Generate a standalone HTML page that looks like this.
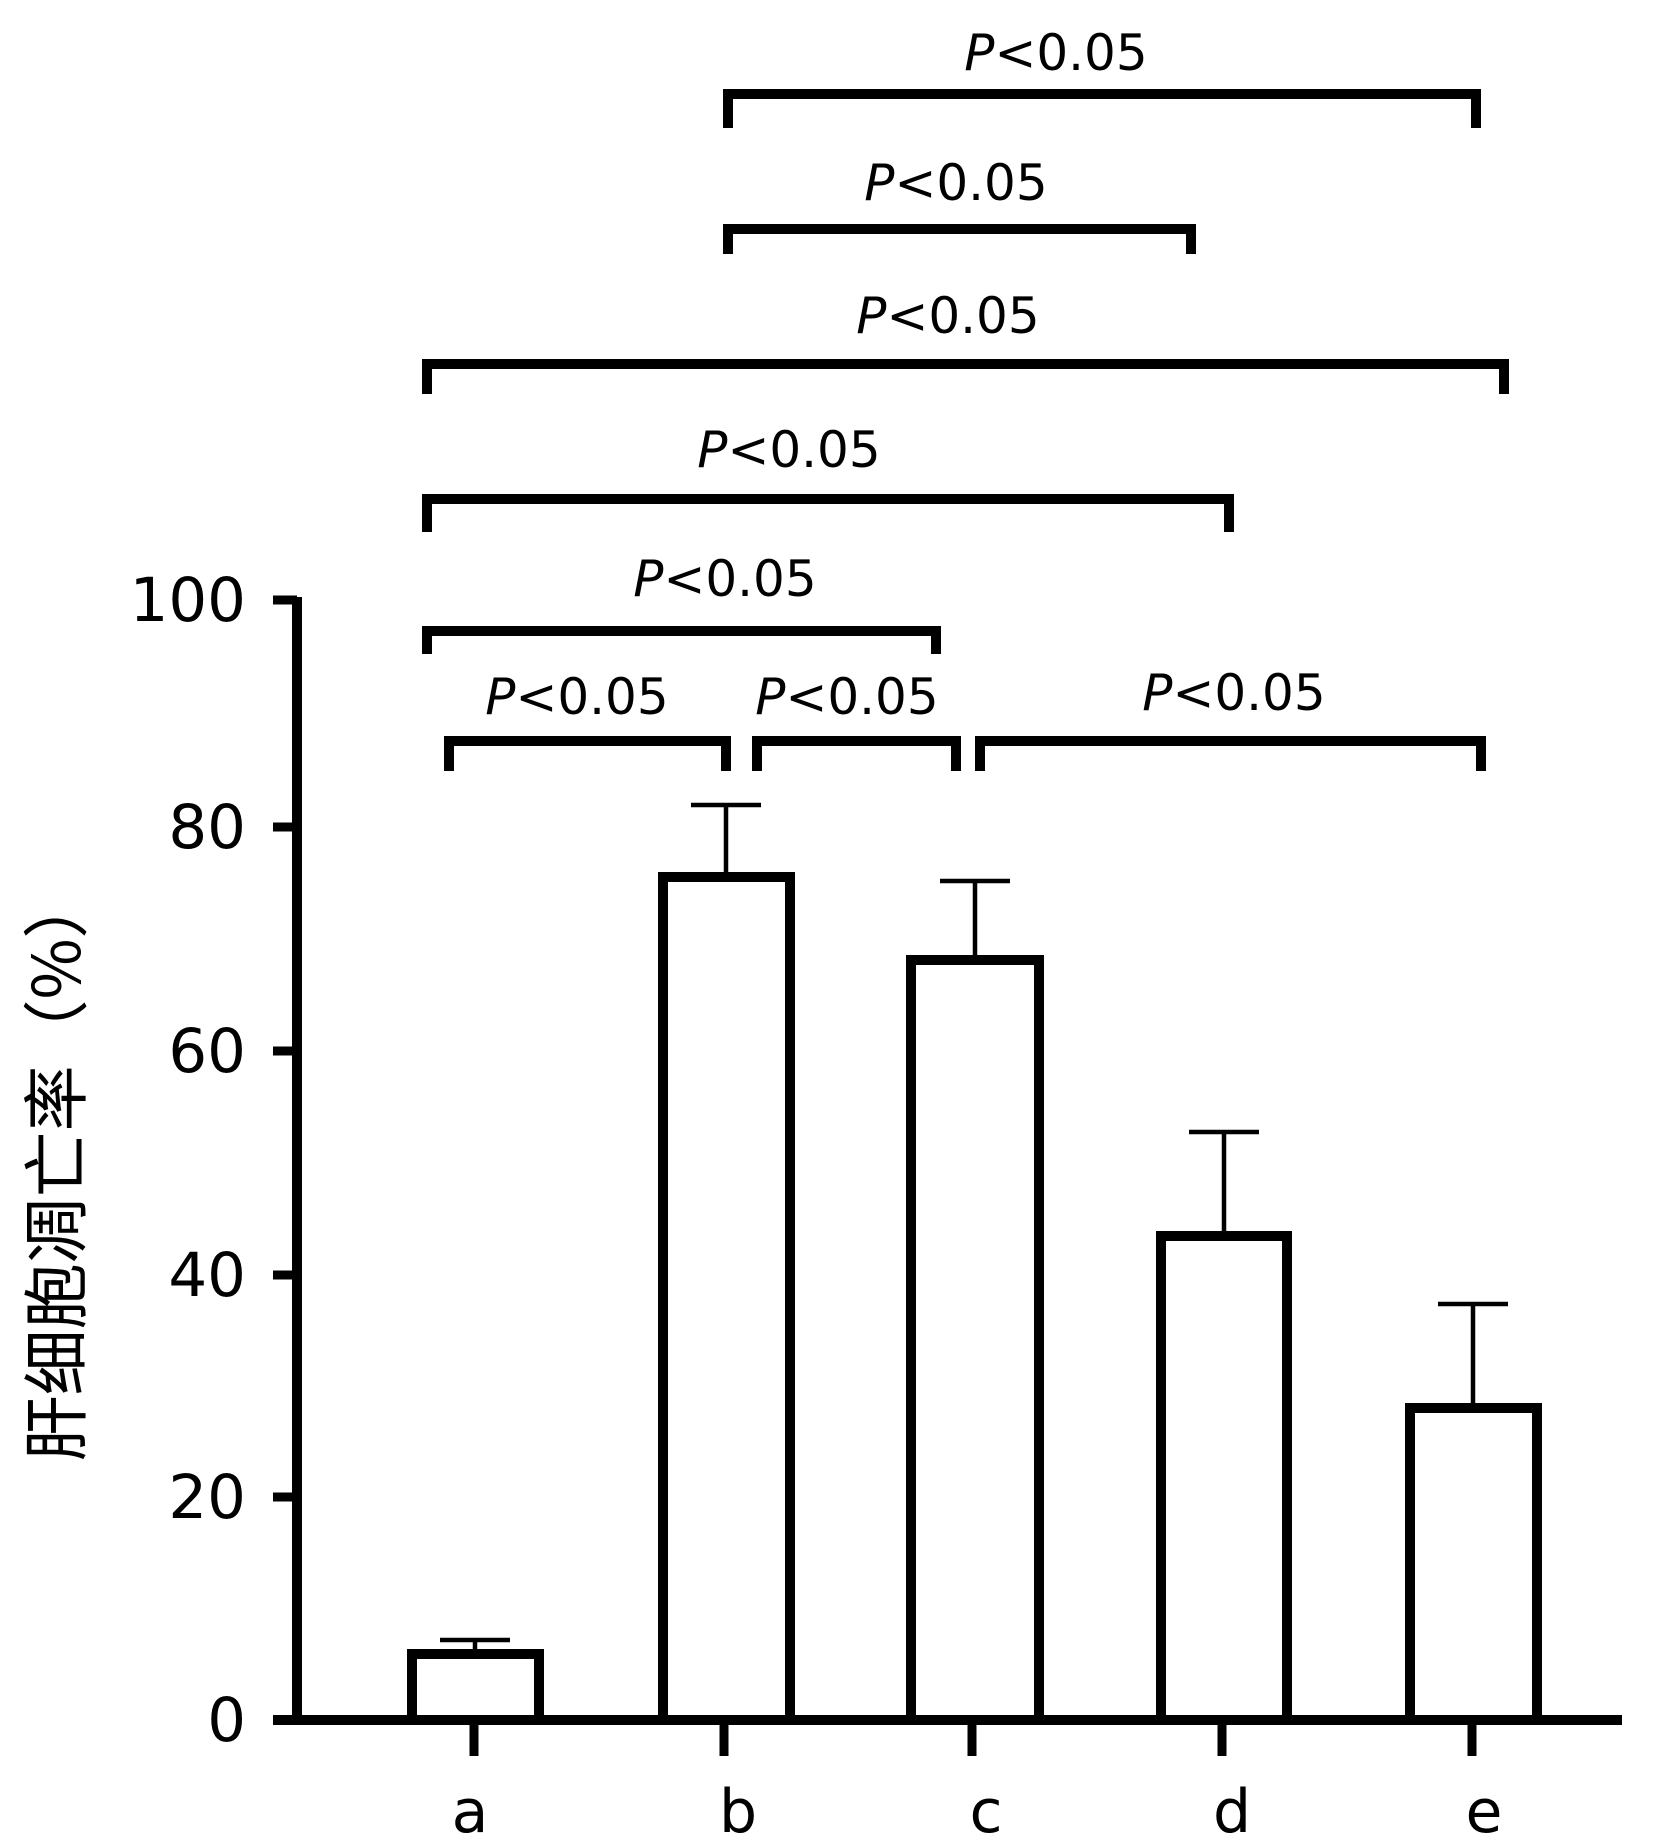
<!DOCTYPE html>
<html><head><meta charset="utf-8"><style>
html,body{margin:0;padding:0;background:#fff;}
svg{display:block;}
text{font-family:"DejaVu Sans","Liberation Sans","Noto Sans CJK SC",sans-serif;fill:#000;}
</style></head><body>
<svg width="1654" height="1840" viewBox="0 0 1654 1840" xmlns="http://www.w3.org/2000/svg">
<g stroke="#000" fill="none" stroke-linejoin="miter" stroke-linecap="butt">
<line x1="297" y1="597" x2="297" y2="1725" stroke-width="10"/>
<line x1="273" y1="1720" x2="1622" y2="1720" stroke-width="10"/>
<g stroke-width="9">
<line x1="273" y1="600" x2="297" y2="600"/>
<line x1="273" y1="827" x2="297" y2="827"/>
<line x1="273" y1="1051" x2="297" y2="1051"/>
<line x1="273" y1="1275" x2="297" y2="1275"/>
<line x1="273" y1="1497" x2="297" y2="1497"/>
<line x1="474" y1="1720" x2="474" y2="1756"/>
<line x1="724" y1="1720" x2="724" y2="1756"/>
<line x1="972" y1="1720" x2="972" y2="1756"/>
<line x1="1222" y1="1720" x2="1222" y2="1756"/>
<line x1="1472" y1="1720" x2="1472" y2="1756"/>
</g>
<g stroke-width="4.5">
<line x1="475" y1="1654" x2="475" y2="1640"/><line x1="440" y1="1640" x2="510" y2="1640"/>
<line x1="726" y1="877" x2="726" y2="805"/><line x1="691" y1="805" x2="761" y2="805"/>
<line x1="975" y1="960" x2="975" y2="881"/><line x1="940" y1="881" x2="1010" y2="881"/>
<line x1="1224" y1="1236" x2="1224" y2="1132"/><line x1="1189" y1="1132" x2="1259" y2="1132"/>
<line x1="1473" y1="1408" x2="1473" y2="1304"/><line x1="1438" y1="1304" x2="1508" y2="1304"/>
</g>
<g stroke-width="10" fill="#fff">
<rect x="412" y="1654" width="127" height="66"/>
<rect x="663" y="877" width="127" height="843"/>
<rect x="911" y="960" width="128" height="760"/>
<rect x="1161" y="1236" width="126" height="484"/>
<rect x="1410" y="1408" width="127" height="312"/>
</g>
<g stroke-width="10">
<polyline points="728,128 728,94 1476,94 1476,128"/>
<polyline points="728,254 728,229 1191,229 1191,254"/>
<polyline points="427,394 427,364 1504,364 1504,394"/>
<polyline points="427,532 427,499 1229,499 1229,532"/>
<polyline points="427,654 427,631 936,631 936,654"/>
<polyline points="449,771 449,741 726,741 726,771"/>
<polyline points="757,771 757,741 956,741 956,771"/>
<polyline points="980,771 980,741 1481,741 1481,771"/>
</g>
</g>
<g font-size="50" text-anchor="middle">
<text x="1056" y="70"><tspan font-style="italic">P</tspan>&lt;0.05</text>
<text x="956" y="200"><tspan font-style="italic">P</tspan>&lt;0.05</text>
<text x="948" y="333"><tspan font-style="italic">P</tspan>&lt;0.05</text>
<text x="789" y="467"><tspan font-style="italic">P</tspan>&lt;0.05</text>
<text x="725" y="596"><tspan font-style="italic">P</tspan>&lt;0.05</text>
<text x="577" y="714"><tspan font-style="italic">P</tspan>&lt;0.05</text>
<text x="847" y="714"><tspan font-style="italic">P</tspan>&lt;0.05</text>
<text x="1234" y="710"><tspan font-style="italic">P</tspan>&lt;0.05</text>
</g>
<g font-size="61" text-anchor="end">
<text x="246" y="621">100</text>
<text x="246" y="848">80</text>
<text x="246" y="1072">60</text>
<text x="246" y="1296">40</text>
<text x="246" y="1518">20</text>
<text x="246" y="1741">0</text>
</g>
<g font-size="60" text-anchor="middle">
<text x="470" y="1832">a</text>
<text x="738" y="1832">b</text>
<text x="986" y="1832">c</text>
<text x="1232" y="1832">d</text>
<text x="1484" y="1832">e</text>
</g>
<text transform="translate(80,1167) rotate(-90)" font-size="66" text-anchor="middle" style="font-family:'Noto Sans CJK SC','DejaVu Sans',sans-serif">肝细胞凋亡率（%）</text>
</svg>
</body></html>
